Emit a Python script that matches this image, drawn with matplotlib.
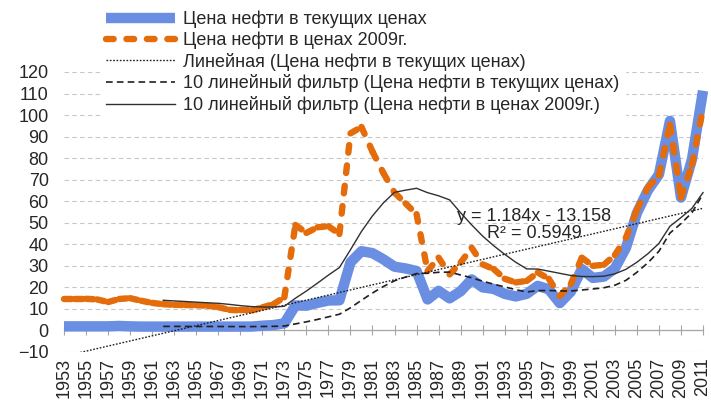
import matplotlib
matplotlib.use('Agg')
import matplotlib.pyplot as plt
import numpy as np
import pandas as pd

plt.rcParams['font.family'] = ['Liberation Sans', 'DejaVu Sans']

years = list(range(1953, 2012))

# цена нефти, $/барр. в текущих ценах
price_current = [
    1.9, 1.9, 1.9, 1.9, 1.9, 2.1, 1.9, 1.8, 1.8, 1.8,
    1.8, 1.8, 1.8, 1.8, 1.8, 1.8, 1.8, 1.8, 2.2, 2.5,
    3.3, 11.6, 11.5, 12.8, 13.9, 14.0, 31.6, 36.8, 35.9, 33.0,
    29.6, 28.8, 27.6, 14.4, 18.4, 14.9, 18.2, 23.7, 20.0, 19.3,
    17.0, 15.8, 17.0, 20.7, 19.1, 12.7, 18.0, 28.5, 24.4, 25.0,
    28.8, 38.3, 54.5, 65.1, 72.4, 97.3, 61.7, 79.5, 111.3,
]

# цена нефти в ценах 2009г.
price_2009 = [
    14.7, 14.7, 14.7, 14.4, 13.2, 14.6, 15.0, 13.8, 12.8, 12.2,
    11.9, 11.8, 11.7, 11.5, 10.8, 9.6, 9.3, 9.3, 10.7, 12.2,
    15.4, 49.0, 45.3, 47.9, 48.4, 44.8, 91.5, 94.5, 83.0, 73.0,
    64.0, 59.0, 54.0, 27.6, 33.8, 26.0, 31.5, 38.4, 30.7, 28.5,
    24.0, 22.3, 23.0, 26.9, 24.0, 16.0, 21.5, 33.8, 30.0, 30.5,
    35.0, 43.0, 56.0, 66.5, 72.0, 95.5, 61.7, 77.0, 103.0,
]

trend_slope = 1.184
trend_intercept = -13.158
trend_r2 = 0.5949
ma_window = 10

labels = [
    'Цена нефти в текущих ценах',
    'Цена нефти в ценах 2009г.',
    'Линейная (Цена нефти в текущих ценах)',
    '10 линейный фильтр (Цена нефти в текущих ценах)',
    '10 линейный фильтр (Цена нефти в ценах 2009г.)',
]

blue = '#6a8ee2'
orange = '#e46c0a'
grey = '#a6a6a6'
fs = 13
orange_dash = (0, (1.2, 2.0))

ma_current = pd.Series(price_current).rolling(ma_window).mean()
ma_2009 = pd.Series(price_2009).rolling(ma_window).mean()
idx = np.arange(1, len(years) + 1)
trend = trend_slope * idx + trend_intercept

fig = plt.figure(figsize=(7.11, 4.01), dpi=100)
ax = fig.add_axes([64 / 711, 49 / 401, 639 / 711, 280 / 401])

ax.plot(years, price_current, color=blue, lw=7.5, solid_capstyle='butt',
        solid_joinstyle='round', clip_on=False, zorder=3, label=labels[0])

# как в Excel: штриховка начинается заново на каждом отрезке
for i in range(len(years) - 1):
    ax.plot(years[i:i + 2], price_2009[i:i + 2], color=orange, lw=4.6,
            linestyle=orange_dash, dash_capstyle='round', clip_on=False,
            zorder=4, label=labels[1] if i == 0 else '_nolegend_')

ax.plot(years, trend, color='#202020', lw=1.0, linestyle=(0, (1.2, 1.2)),
        zorder=5, label=labels[2])
ax.plot(years, ma_current, color='#202020', lw=1.2, linestyle=(0, (4, 2.5)),
        clip_on=False, zorder=5, label=labels[3])
ax.plot(years, ma_2009, color='#303030', lw=1.0, clip_on=False, zorder=5,
        label=labels[4])

ax.set_xlim(1953, 2011)
ax.set_ylim(-10, 120)
ax.set_yticks(range(-10, 121, 10))
ax.yaxis.grid(True, color='#c8c8c8', lw=0.8, linestyle=(0, (4, 3)))
ax.set_axisbelow(True)

for s in ['top', 'right', 'left']:
    ax.spines[s].set_visible(False)
ax.spines['bottom'].set_position(('data', 0))
ax.spines['bottom'].set_color(grey)
ax.spines['bottom'].set_linewidth(0.9)
ax.spines['bottom'].set_zorder(2)

xt = years[::2]
ax.set_xticks(xt)
ax.tick_params(axis='x', direction='inout', length=6.5, color=grey,
               labelbottom=False)
ax.tick_params(axis='y', length=0, pad=11, labelsize=fs, labelcolor='#262626')

sec = ax.secondary_xaxis(0)
sec.set_xticks(xt)
sec.set_xticklabels([str(y) for y in xt], rotation=90, fontsize=fs,
                    color='#262626')
sec.tick_params(length=0, pad=4)
sec.spines['bottom'].set_visible(False)

ax.text(1995.7, 49, f'y = {trend_slope}x - {abs(trend_intercept)}\nR² = {trend_r2}',
        ha='center', va='center', fontsize=fs, color='#262626',
        linespacing=1.0, zorder=6)

leg = fig.legend(loc='upper left', bbox_to_anchor=(101 / 711, 396 / 401),
                 fontsize=fs, handlelength=3.8, handletextpad=0.45,
                 labelspacing=0.2, borderpad=0.3, borderaxespad=0,
                 frameon=True, fancybox=False, framealpha=1,
                 facecolor='white', edgecolor='white')
for t in leg.get_texts():
    t.set_color('#262626')

fig.savefig('out.png', dpi=100)
